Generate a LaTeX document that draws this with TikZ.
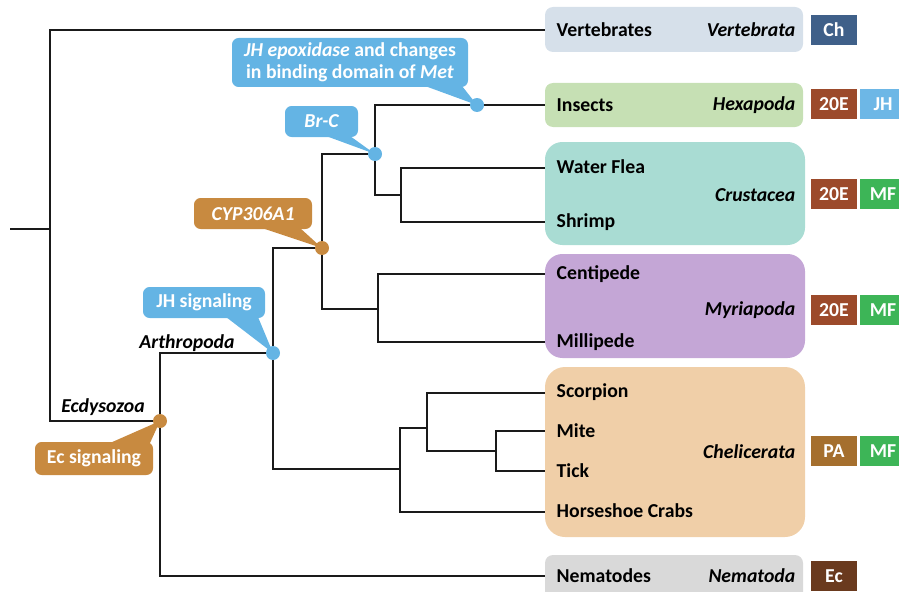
\documentclass[tikz,border=0pt]{standalone}
\usepackage{fontspec}
\setmainfont{Carlito}
\usetikzlibrary{fit}
\definecolor{cvert}{HTML}{D6E0EA}
\definecolor{cins}{HTML}{C6E0B4}
\definecolor{ccru}{HTML}{A9DCD3}
\definecolor{cmyr}{HTML}{C4A6D6}
\definecolor{cche}{HTML}{F0CFA8}
\definecolor{cnem}{HTML}{D9D9D9}
\definecolor{bch}{HTML}{3F6089}
\definecolor{btwe}{HTML}{9C4A2B}
\definecolor{bjh}{HTML}{6DB7E6}
\definecolor{bmf}{HTML}{3DB557}
\definecolor{bpa}{HTML}{A56F2E}
\definecolor{bec}{HTML}{6A3A1E}
\definecolor{cblue}{HTML}{64B4E4}
\definecolor{corange}{HTML}{C88A40}
\definecolor{lin}{HTML}{1A1A1A}
\begin{document}
\begin{tikzpicture}[x=0.75pt,y=-0.75pt,
  font=\fontsize{14.8}{17}\selectfont\bfseries,
  br/.style={line width=2pt, draw=lin},
  grp/.style={inner sep=0pt, draw=none},
  leaf/.style={anchor=west, text=black},
  taxon/.style={anchor=east, text=black, font=\fontsize{14.8}{17}\selectfont\bfseries\itshape},
  badge/.style={minimum width=34.5pt, minimum height=23pt, inner sep=0pt, text=white},
  dotblue/.style={circle, fill=cblue, inner sep=0pt, minimum size=10.5pt},
  dotorange/.style={circle, fill=corange, inner sep=0pt, minimum size=10.5pt},
  callbox/.style={inner sep=0pt, rounded corners=5pt},
  ctext/.style={text=white, align=center},
  clade/.style={text=black, font=\fontsize{14.8}{17}\selectfont\bfseries\itshape}]
\useasboundingbox (0,0) rectangle (899,592);
\clip (0,0) rectangle (899,592);

% group boxes
\node[grp, fill=cvert, rounded corners=6pt, fit={(545,7)(803,52)}] (gvert) {};
\node[grp, fill=cins, rounded corners=6pt, fit={(545,83)(803,127)}] (gins) {};
\node[grp, fill=ccru, rounded corners=13pt, fit={(545,142)(805,245)}] (gcru) {};
\node[grp, fill=cmyr, rounded corners=13pt, fit={(545,254)(805,358)}] (gmyr) {};
\node[grp, fill=cche, rounded corners=15pt, fit={(545,367)(805,537)}] (gche) {};
\node[grp, fill=cnem, rounded corners=6pt, fit={(545,555)(803,600)}] (gnem) {};

% leaf anchor coordinates
\coordinate (lvert) at (545,30);
\coordinate (lins) at (545,105);
\coordinate (lwf) at (545,168);
\coordinate (lsh) at (545,222);
\coordinate (lcen) at (545,274);
\coordinate (lmil) at (545,342);
\coordinate (lsc) at (545,393);
\coordinate (lmi) at (545,431);
\coordinate (lti) at (545,471);
\coordinate (lhc) at (545,512);
\coordinate (lnem) at (545,576);

% internal positions
\coordinate (stub) at (10,229);
\coordinate (root) at (50,229);
\coordinate (ecd) at (160,421);
\coordinate (arth) at (273,353);
\coordinate (cyp) at (322,248);
\coordinate (brc) at (375,154);
\coordinate (cru) at (401,195);
\coordinate (myr) at (378,309);
\coordinate (che) at (400,469);
\coordinate (chetwo) at (427,428);
\coordinate (mt) at (496,451);
\coordinate (jhe) at (477,105);

% branches
\draw[br] (stub) -- (root);
\draw[br] (root) |- (lvert);
\draw[br] (root) |- (ecd);
\draw[br] (ecd) |- (arth);
\draw[br] (ecd) |- (lnem);
\draw[br] (arth) |- (cyp);
\draw[br] (arth) |- (che);
\draw[br] (cyp) |- (brc);
\draw[br] (cyp) |- (myr);
\draw[br] (brc) |- (lins);
\draw[br] (brc) |- (cru);
\draw[br] (cru) |- (lwf);
\draw[br] (cru) |- (lsh);
\draw[br] (myr) |- (lcen);
\draw[br] (myr) |- (lmil);
\draw[br] (che) |- (chetwo);
\draw[br] (che) |- (lhc);
\draw[br] (chetwo) |- (lsc);
\draw[br] (chetwo) |- (mt);
\draw[br] (mt) |- (lmi);
\draw[br] (mt) |- (lti);

% callouts
\node[callbox, fill=corange, fit={(35,442)(153,475)}] (cec) {};
\fill[corange] (110,443) -- (150,443) -- (ecd) -- cycle;
\node[ctext] at (cec) {Ec signaling};

\node[callbox, fill=cblue, fit={(143,287)(265,318)}] (cjh) {};
\fill[cblue] (226,317) -- (258,317) -- (arth) -- cycle;
\node[ctext] at (cjh) {JH signaling};

\node[callbox, fill=corange, fit={(194,198)(312,229)}] (ccyp) {};
\fill[corange] (262,228) -- (300,228) -- (cyp) -- cycle;
\node[ctext, font=\fontsize{14.8}{17}\selectfont\bfseries\itshape] at (ccyp) {CYP306A1};

\node[callbox, fill=cblue, fit={(285,106)(358,137)}] (cbrc) {};
\fill[cblue] (326,136) -- (350,136) -- (brc) -- cycle;
\node[ctext, font=\fontsize{14.8}{17}\selectfont\bfseries\itshape] at (cbrc) {Br-C};

\node[callbox, fill=cblue, fit={(232,38)(468,87)}] (cjhe) {};
\fill[cblue] (425,86) -- (462,86) -- (jhe) -- cycle;
\node[ctext, font=\fontsize{14.8}{16.5}\selectfont\bfseries] at (cjhe) {\textit{JH epoxidase} and changes\\in binding domain of \textit{Met}};

% dots
\node[dotorange] (ecddot) at (ecd) {};
\node[dotblue] (arthdot) at (arth) {};
\node[dotorange] (cypdot) at (cyp) {};
\node[dotblue] (brcdot) at (brc) {};
\node[dotblue] (jhedot) at (jhe) {};

% clade labels
\node[clade] (lecd) at (103,407) {Ecdysozoa};
\node[clade] (larth) at (187,343) {Arthropoda};

% leaf labels
\node[leaf] (tvert) at (552,30) {Vertebrates};
\node[leaf] (tins) at (552,105) {Insects};
\node[leaf] (twf) at (552,167) {Water Flea};
\node[leaf] (tsh) at (552,222) {Shrimp};
\node[leaf] (tcen) at (552,274) {Centipede};
\node[leaf] (tmil) at (552,342) {Millipede};
\node[leaf] (tsc) at (552,392) {Scorpion};
\node[leaf] (tmi) at (552,431) {Mite};
\node[leaf] (tti) at (552,471) {Tick};
\node[leaf] (thc) at (552,511) {Horseshoe Crabs};
\node[leaf] (tnem) at (552,576) {Nematodes};

% taxa
\node[taxon] (xvert) at (800,30) {Vertebrata};
\node[taxon] (xins) at (800,105) {Hexapoda};
\node[taxon] (xcru) at (800,195) {Crustacea};
\node[taxon] (xmyr) at (800,310) {Myriapoda};
\node[taxon] (xche) at (800,452) {Chelicerata};
\node[taxon] (xnem) at (800,576) {Nematoda};

% badges
\node[badge, fill=bch] (bvert) at (834,30) {Ch};
\node[badge, fill=btwe] (bins) at (834,104) {20E};
\node[badge, fill=bjh] (binsb) at (883,104) {JH};
\node[badge, fill=btwe] (bcru) at (834,194) {20E};
\node[badge, fill=bmf] (bcrub) at (883,194) {MF};
\node[badge, fill=btwe] (bmyr) at (834,310) {20E};
\node[badge, fill=bmf] (bmyrb) at (883,310) {MF};
\node[badge, fill=bpa] (bche) at (834,451) {PA};
\node[badge, fill=bmf] (bcheb) at (883,451) {MF};
\node[badge, fill=bec] (bnem) at (834,576) {Ec};
\end{tikzpicture}
\end{document}
